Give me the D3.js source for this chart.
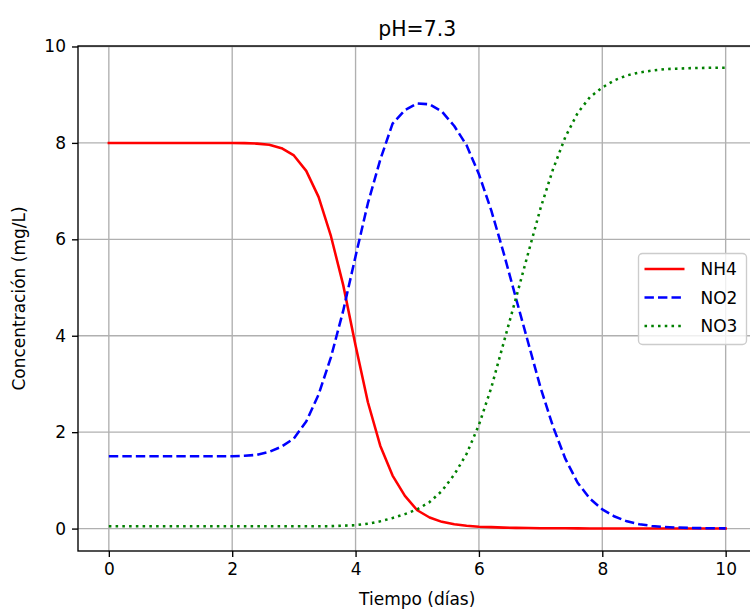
<!DOCTYPE html>
<html>
<head>
<meta charset="utf-8">
<script src="https://cdn.jsdelivr.net/npm/d3@7"></script>
<style>
  body { margin: 0; background: #fff; }
  svg text { font-family: "DejaVu Sans", sans-serif; fill: #000; }
</style>
</head>
<body>
<svg id="chart" width="750" height="613"></svg>
<script>
// time grid (days)
var times = [0, 0.2, 0.4, 0.6, 0.8, 1.0, 1.2, 1.4, 1.6, 1.8,
  2.0, 2.2, 2.4, 2.6, 2.8, 3.0, 3.2, 3.4, 3.6, 3.8,
  4.0, 4.2, 4.4, 4.6, 4.8, 5.0, 5.2, 5.4, 5.6, 5.8,
  6.0, 6.2, 6.4, 6.6, 6.8, 7.0, 7.2, 7.4, 7.6, 7.8,
  8.0, 8.2, 8.4, 8.6, 8.8, 9.0, 9.2, 9.4, 9.6, 9.8, 10.0];

var nh4 = [8.00, 8.00, 8.00, 8.00, 8.00, 8.00, 8.00, 8.00, 8.00, 8.00,
  8.00, 7.995, 7.985, 7.96, 7.89, 7.74, 7.42, 6.88, 6.07, 5.05,
  3.80, 2.62, 1.72, 1.10, 0.68, 0.38, 0.23, 0.14, 0.09, 0.06,
  0.04, 0.03, 0.02, 0.015, 0.01, 0.008, 0.006, 0.005, 0.004, 0.003,
  0.002, 0.002, 0.001, 0.001, 0.001, 0.001, 0, 0, 0, 0, 0];

var no2 = [1.50, 1.50, 1.50, 1.50, 1.50, 1.50, 1.50, 1.50, 1.50, 1.50,
  1.50, 1.51, 1.53, 1.59, 1.70, 1.87, 2.22, 2.78, 3.55, 4.52,
  5.65, 6.75, 7.65, 8.40, 8.68, 8.82, 8.80, 8.65, 8.35, 7.95,
  7.35, 6.60, 5.72, 4.78, 3.85, 2.92, 2.12, 1.45, 0.95, 0.62,
  0.40, 0.25, 0.15, 0.09, 0.055, 0.035, 0.022, 0.014, 0.009, 0.006, 0.004];

var no3 = [0.05, 0.05, 0.05, 0.05, 0.05, 0.05, 0.05, 0.05, 0.05, 0.05,
  0.05, 0.05, 0.05, 0.05, 0.05, 0.05, 0.05, 0.05, 0.05, 0.06,
  0.07, 0.10, 0.15, 0.22, 0.30, 0.40, 0.55, 0.78, 1.12, 1.55,
  2.15, 2.92, 3.85, 4.78, 5.72, 6.65, 7.45, 8.12, 8.62, 8.95,
  9.15, 9.30, 9.40, 9.46, 9.50, 9.53, 9.54, 9.55, 9.555, 9.56, 9.56];

var xTicks = [0, 2, 4, 6, 8, 10];
var yTicks = [0, 2, 4, 6, 8, 10];

var seriesNames = ["NH4", "NO2", "NO3"];
var seriesColors = ["#ff0000", "#0000ff", "#008000"];
var seriesDash = [null, "9.4,4.1", "2.55,4.2"];

var svg = d3.select("#chart");
var padL = 78, padR = 756.5, padT = 46, padB = 551;

var x = d3.scaleLinear().domain([-0.5, 10.5]).range([padL, padR]);
var y = d3.scaleLinear().domain([-0.465, 10.01]).range([padB, padT]);

svg.append("defs").append("clipPath").attr("id", "clip")
  .append("rect").attr("x", padL).attr("y", padT)
  .attr("width", padR - padL).attr("height", padB - padT);

// grid
var grid = svg.append("g");
grid.selectAll("line.gx").data(xTicks).enter().append("line")
  .attr("x1", function(d) { return x(d); }).attr("x2", function(d) { return x(d); })
  .attr("y1", padT).attr("y2", padB)
  .attr("stroke", "#b0b0b0").attr("stroke-width", 1.36);
grid.selectAll("line.gy").data(yTicks).enter().append("line")
  .attr("x1", padL).attr("x2", padR)
  .attr("y1", function(d) { return y(d); }).attr("y2", function(d) { return y(d); })
  .attr("stroke", "#b0b0b0").attr("stroke-width", 1.36);

// lines
var allSeries = [nh4, no2, no3];
var line = d3.line()
  .x(function(d) { return x(d[0]); })
  .y(function(d) { return y(d[1]); });

var plot = svg.append("g").attr("clip-path", "url(#clip)");
allSeries.forEach(function(vals, i) {
  var pts = times.map(function(t, j) { return [t, vals[j]]; });
  plot.append("path")
    .attr("d", line(pts))
    .attr("fill", "none")
    .attr("stroke", seriesColors[i])
    .attr("stroke-width", 2.55)
    .attr("stroke-dasharray", seriesDash[i])
    .attr("stroke-linecap", i == 0 ? "square" : "butt")
    .attr("stroke-linejoin", "round");
});

// axes
var xAxis = d3.axisBottom(x).tickValues(xTicks).tickSize(6).tickPadding(6).tickFormat(d3.format("d"));
var yAxis = d3.axisLeft(y).tickValues(yTicks).tickSize(6).tickPadding(6).tickFormat(d3.format("d"));

var gx = svg.append("g").attr("transform", "translate(0," + padB + ")").call(xAxis);
var gy = svg.append("g").attr("transform", "translate(" + padL + ",0)").call(yAxis);
[gx, gy].forEach(function(g) {
  g.select(".domain").remove();
  g.selectAll(".tick line").attr("stroke", "#000").attr("stroke-width", 1.36);
  g.selectAll(".tick text").style("font-size", "17px").style("font-family", "DejaVu Sans").attr("fill", "#000");
});

// spines (right one falls outside the window)
svg.append("rect")
  .attr("x", padL).attr("y", padT)
  .attr("width", padR - padL).attr("height", padB - padT)
  .attr("fill", "none").attr("stroke", "#000").attr("stroke-width", 1.36);

// title and labels
svg.append("text").attr("x", (padL + padR) / 2).attr("y", 36)
  .attr("text-anchor", "middle").style("font-size", "20.4px").text("pH=7.3");
svg.append("text").attr("x", (padL + padR) / 2).attr("y", 605)
  .attr("text-anchor", "middle").style("font-size", "17px").text("Tiempo (días)");
svg.append("text")
  .attr("transform", "translate(25," + ((padT + padB) / 2) + ") rotate(-90)")
  .attr("text-anchor", "middle").style("font-size", "17px").text("Concentración (mg/L)");

// legend
var lg = svg.append("g").attr("transform", "translate(638.5,253.5)");
lg.append("rect").attr("width", 108).attr("height", 91).attr("rx", 4)
  .attr("fill", "#fff").attr("fill-opacity", 0.8)
  .attr("stroke", "#cccccc").attr("stroke-width", 1.36);
seriesNames.forEach(function(name, i) {
  var yy = 15.5 + i * 28.5;
  lg.append("line").attr("x1", 6).attr("x2", 46).attr("y1", yy).attr("y2", yy)
    .attr("stroke", seriesColors[i]).attr("stroke-width", 2.55)
    .attr("stroke-dasharray", seriesDash[i]);
  lg.append("text").attr("x", 62).attr("y", yy + 6)
    .style("font-size", "17px").text(name);
});
</script>
</body>
</html>
